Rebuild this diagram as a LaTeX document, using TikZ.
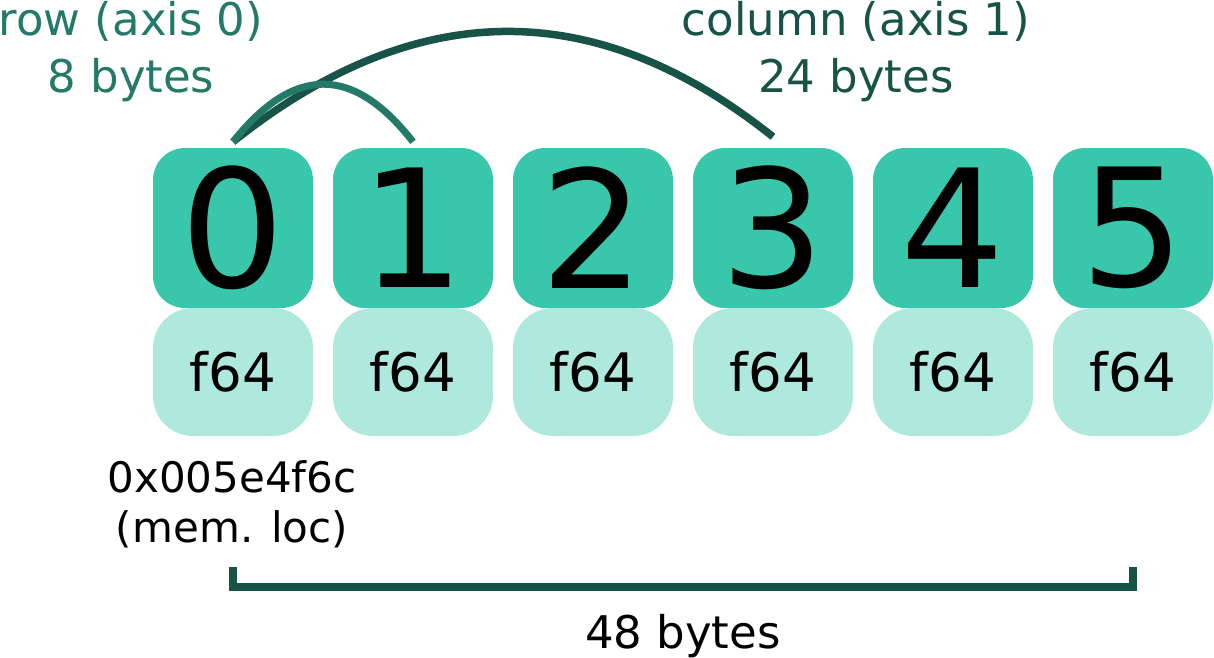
\documentclass[tikz,border=0pt]{standalone}
\usepackage{fontspec}
\setmainfont{DejaVu Sans}
\definecolor{boxdark}{HTML}{38C7AA}
\definecolor{boxlight}{HTML}{AFE8DC}
\definecolor{tealmid}{HTML}{247A68}
\definecolor{tealdeep}{HTML}{175347}
\begin{document}
\begin{tikzpicture}[x=1pt,y=-1pt,
  dbox/.style={fill=boxdark, rounded corners=32pt, minimum width=160pt, minimum height=160pt, inner sep=0pt, font=\fontsize{164}{164}\selectfont, text=black},
  lbox/.style={fill=boxlight, rounded corners=40pt, minimum width=160pt, minimum height=128pt, inner sep=0pt, font=\fontsize{53}{53}\selectfont, text=black},
  rowarc/.style={draw=tealmid, line width=7pt},
  colarc/.style={draw=tealdeep, line width=7.5pt},
  lab/.style={align=center, inner sep=0pt, font=\fontsize{45}{57}\selectfont},
  bracket/.style={draw=tealdeep, line width=7.5pt, line join=miter}
]
\useasboundingbox (0,0) rectangle (1214,657);

\foreach \i in {0,...,5}{
  \node[dbox] (d\i) at ({233+180*\i},228) {\i};
  \node[lbox] (l\i) at ({233+180*\i},372) {f64};
}

% arcs
\draw[colarc] ([yshift=6pt]d0.north) .. controls (415,-3) and (594,-6) .. ([yshift=11pt]d3.north);
\draw[rowarc] ([yshift=6pt]d0.north) .. controls (294,65) and (353,65) .. ([yshift=6pt]d1.north);

% labels
\node[lab, text=tealmid] (rowlab) at (131,52) {row (axis 0)\\8 bytes};
\node[lab, text=tealdeep] (collab) at (856,52) {column (axis 1)\\24 bytes};
\node[align=center, inner sep=0pt, font=\fontsize{42}{50}\selectfont] (memlab) at (232,504) {0x005e4f6c\\(mem. loc)};

% bracket
\coordinate (bl) at (233,567);
\coordinate (br) at (1133,567);
\draw[bracket] (bl) -- ++(0,20) -- ++(900,0) -- (br);
\node[anchor=base, inner sep=0pt, font=\fontsize{45}{57}\selectfont] (totlab) at (683,648) {48 bytes};
\end{tikzpicture}
\end{document}
